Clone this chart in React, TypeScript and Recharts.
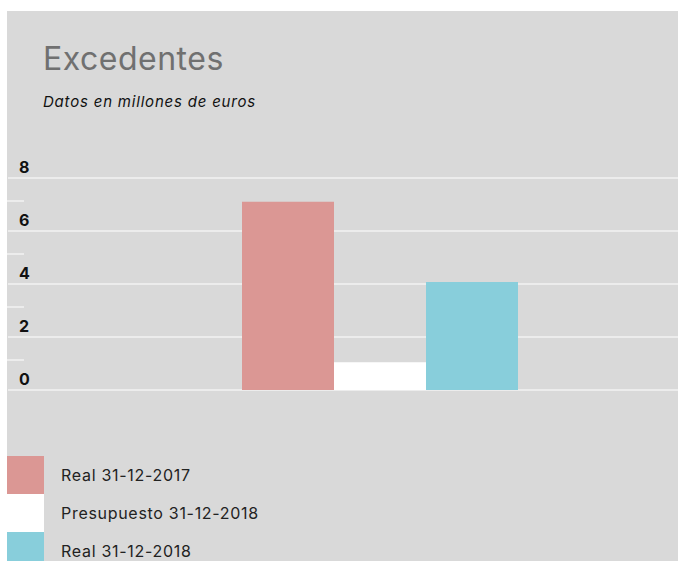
import React from "react";
import { BarChart, Bar, XAxis, YAxis, CartesianGrid } from "recharts";

const categories = ["Excedentes"];
const seriesNames = ["Real 31-12-2017", "Presupuesto 31-12-2018", "Real 31-12-2018"];
const real2017 = [7.1];
const presupuesto2018 = [1.05];
const real2018 = [4.08];
const yTicks = [0, 2, 4, 6, 8];
const seriesColors = ["#db9794", "#ffffff", "#88cedb"];

const data = categories.map((c, i) => ({
  name: c,
  s0: real2017[i],
  s1: presupuesto2018[i],
  s2: real2018[i],
}));

const FONT = "Inter, 'Open Sans', sans-serif";

const YTick = (props: any) => {
  const { y, payload } = props;
  return (
    <g>
      <text x={12} y={y - 5.5} fill="#111" fontSize={16} fontWeight={700} letterSpacing={1} fontFamily={FONT}>
        {payload.value}
      </text>
      {payload.value < 8 && (
        <line x1={0} x2={17} y1={y - 30} y2={y - 30} stroke="#ffffff" strokeWidth={1} />
      )}
    </g>
  );
};

export default function App() {
  return (
    <div
      style={{
        position: "absolute",
        left: 7,
        top: 11,
        width: 671,
        height: 550,
        background: "#d9d9d9",
        overflow: "hidden",
      }}
    >
      <div
        style={{
          position: "absolute",
          left: 36,
          top: 30,
          fontFamily: FONT,
          fontSize: 32,
          letterSpacing: 0.5,
          color: "#707070",
          fontWeight: 400,
          lineHeight: "36px",
        }}
      >
        Excedentes
      </div>
      <div
        style={{
          position: "absolute",
          left: 36,
          top: 81,
          fontFamily: FONT,
          fontSize: 15,
          letterSpacing: 0.8,
          fontStyle: "italic",
          color: "#111",
          lineHeight: "20px",
        }}
      >
        Datos en millones de euros
      </div>
      <BarChart
        width={671}
        height={400}
        data={data}
        margin={{ top: 167, right: 0, bottom: 21, left: 0 }}
        barGap={0}
        barSize={92}
      >
        <CartesianGrid vertical={false} stroke="#ffffff" strokeWidth={1.2} />
        <XAxis dataKey="name" hide height={0} padding={{ left: 74, right: 0 }} />
        <YAxis
          width={1}
          domain={[0, 8]}
          ticks={yTicks}
          interval={0}
          axisLine={false}
          tickLine={false}
          tick={YTick}
        />
        <Bar dataKey="s0" name={seriesNames[0]} fill={seriesColors[0]} isAnimationActive={false} />
        <Bar dataKey="s1" name={seriesNames[1]} fill={seriesColors[1]} isAnimationActive={false} />
        <Bar dataKey="s2" name={seriesNames[2]} fill={seriesColors[2]} isAnimationActive={false} />
      </BarChart>
      <div style={{ position: "absolute", left: 0, top: 445, fontFamily: FONT }}>
        {seriesNames.map((n, i) => (
          <div key={i} style={{ display: "flex", alignItems: "center", height: 38 }}>
            <div style={{ width: 37, height: 38, background: seriesColors[i] }} />
            <span style={{ marginLeft: 17, fontSize: 16, letterSpacing: 0.7, color: "#222" }}>{n}</span>
          </div>
        ))}
      </div>
    </div>
  );
}
